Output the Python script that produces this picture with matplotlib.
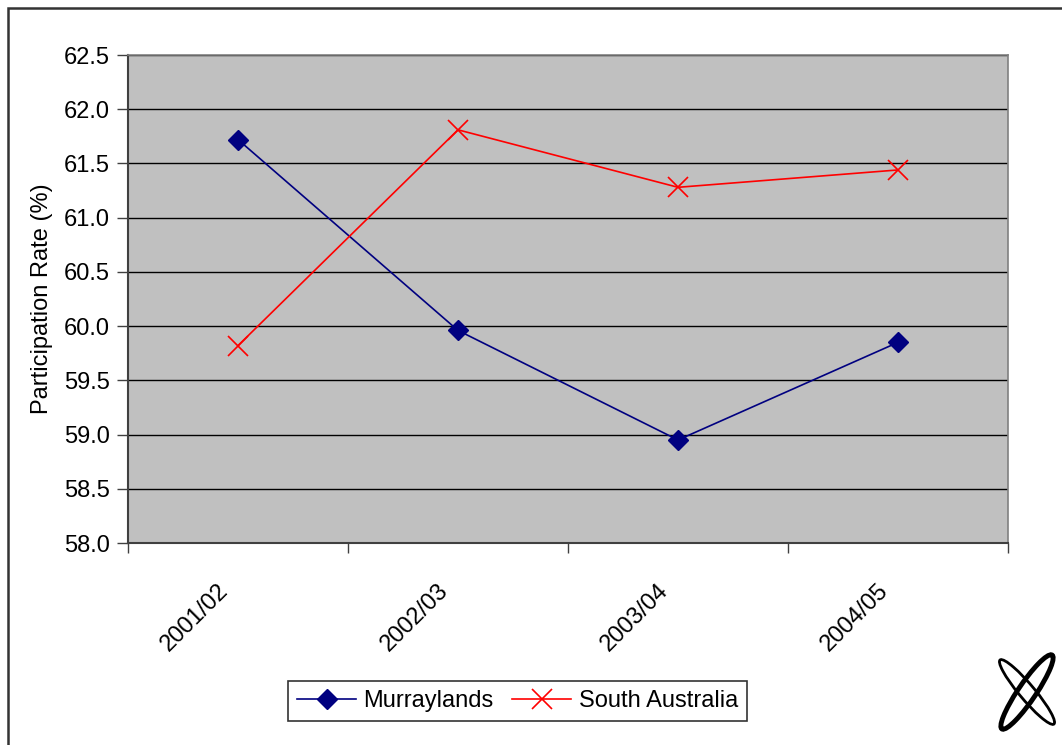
import matplotlib
matplotlib.use("Agg")
import matplotlib.pyplot as plt
from matplotlib.patches import Rectangle, Ellipse
from matplotlib.transforms import ScaledTranslation
import numpy as np

categories = ["2001/02", "2002/03", "2003/04", "2004/05"]
murraylands = [61.72, 59.96, 58.95, 59.85]
south_australia = [59.82, 61.81, 61.28, 61.44]
yticks = [58.0, 58.5, 59.0, 59.5, 60.0, 60.5, 61.0, 61.5, 62.0, 62.5]

plt.rcParams['font.family'] = ['Liberation Sans', 'DejaVu Sans']
FS = 17

fig = plt.figure(figsize=(10.62, 7.45), dpi=100)
ax = fig.add_axes([128/1062, 1-543/745, (1008-128)/1062, (543-55)/745])
ax.set_facecolor('#C0C0C0')

x = np.arange(len(categories))
ax.plot(x, murraylands, color='#000080', lw=1.2, marker='D', markersize=10,
        markerfacecolor='#000080', markeredgecolor='#000080', label='Murraylands', zorder=3)
ax.plot(x, south_australia, color='#FF0000', lw=1.2, marker='x', markersize=14,
        markeredgewidth=1.2, label='South Australia', zorder=3)

ax.set_xlim(-0.5, len(categories) - 0.5)
ax.set_ylim(yticks[0], yticks[-1])
ax.set_yticks(yticks)
ax.set_yticklabels([f"{v:.1f}" for v in yticks], fontsize=FS)
ax.yaxis.grid(True, color='black', lw=1)
ax.set_axisbelow(True)

ax.set_xticks(x)
ax.set_xticklabels(categories, fontsize=FS, rotation=45, ha='right', va='top',
                   rotation_mode='anchor')
ax.tick_params(axis='x', which='major', length=0, pad=26)
offset = ScaledTranslation(-0.21, 0, fig.dpi_scale_trans)
for lab in ax.get_xticklabels():
    lab.set_transform(lab.get_transform() + offset)
ax.set_xticks(np.arange(-0.5, len(categories)), minor=True)
ax.tick_params(axis='x', which='minor', length=7, color='#404040', width=1)
ax.tick_params(axis='y', length=8, color='#404040', width=1, pad=5)

for s in ['left', 'bottom']:
    ax.spines[s].set_color('#404040')
    ax.spines[s].set_linewidth(1.5)
for s in ['top', 'right']:
    ax.spines[s].set_color('#808080')
    ax.spines[s].set_linewidth(1.2)

ax.set_ylabel('Participation Rate (%)', fontsize=FS, labelpad=8)

leg = fig.legend(loc='center', bbox_to_anchor=(517.5/1062, 1-701/745), ncol=2,
                 fontsize=FS, frameon=True, fancybox=False, edgecolor='black',
                 handlelength=2.5, columnspacing=0.8, handletextpad=0.3,
                 borderpad=0.4, borderaxespad=0)
leg.get_frame().set_linewidth(1.2)

# outer border
fig.patches.append(Rectangle((8/1062, -0.1), 1.2, 1 - 8/745 + 0.1, transform=fig.transFigure,
                             fill=False, edgecolor='#333333', lw=1.8))

# logo approximation
lx, ly = 1027/1062, 1-692/745
e1 = Ellipse((lx, ly), 0.018, 0.11, angle=-25, transform=fig.transFigure,
             fill=False, edgecolor='black', lw=3.5)
e2 = Ellipse((lx, ly), 0.016, 0.10, angle=30, transform=fig.transFigure,
             fill=False, edgecolor='black', lw=2)
fig.patches.extend([e1, e2])

fig.savefig('out.png', dpi=100)
